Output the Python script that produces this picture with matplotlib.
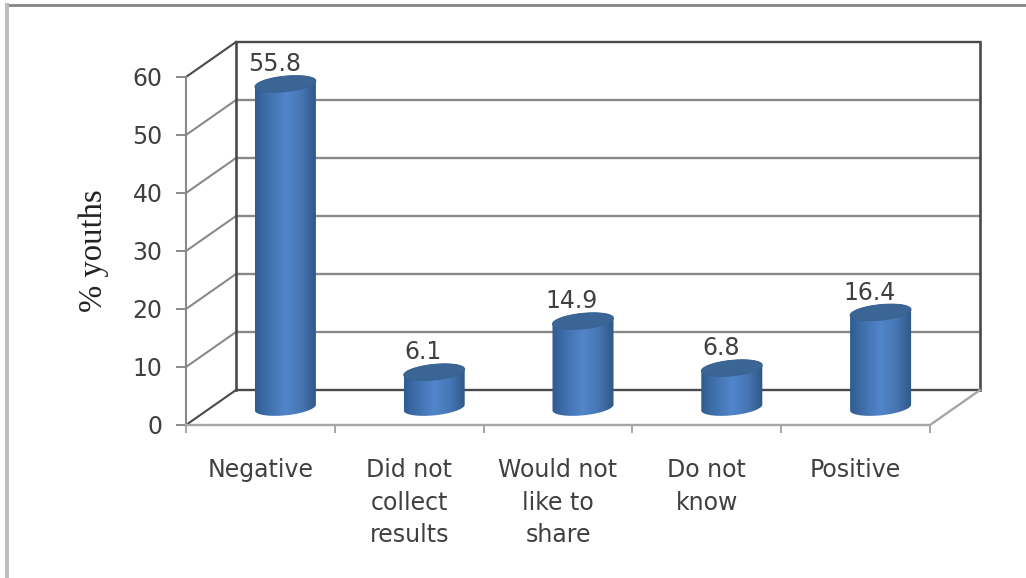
import numpy as np
import matplotlib
matplotlib.use("Agg")
import matplotlib.pyplot as plt
from matplotlib.colors import LinearSegmentedColormap
from matplotlib.lines import Line2D
from matplotlib.patches import PathPatch, Polygon
from matplotlib.path import Path

categories = ["Negative", "Did not\ncollect\nresults", "Would not\nlike to\nshare", "Do not\nknow", "Positive"]
values = [55.8, 6.1, 14.9, 6.8, 16.4]
y_ticks = [0, 10, 20, 30, 40, 50, 60]

W, H = 1026, 578
# depth of the 3D box, in data units
DX, DY = 0.336, 6.03
BAR_W = 0.205
ELL_B = 1.35
ELL_TILT = 0.5

TEXT = "#404040"
GRID = "#8a8a8a"
DARK = "#4a4a4a"
SIDE = "#a6a6a6"

fig = plt.figure(figsize=(W / 100, H / 100), dpi=100)
ax = fig.add_axes([186 / W, 1 - 425 / H, 744 / W, 348 / H])
ax.set_xlim(0, 5)
ax.set_ylim(0, 60)
ax.patch.set_visible(False)

# outer frame, only top and left show
fig.add_artist(Line2D([6 / W, 1], [1 - 5 / H, 1 - 5 / H], color="#858585", lw=2.0))
fig.add_artist(Line2D([7 / W, 7 / W], [0, 1 - 5 / H], color="#bdbdbd", lw=2.8))

# back wall and side wall
for v in y_ticks:
    edge = v in (0, 60)
    ax.plot([DX, 5 + DX], [v + DY, v + DY], color=DARK if edge else GRID, lw=1.7, clip_on=False, zorder=1)
    ax.plot([0, DX], [v, v + DY], color=DARK if edge else GRID, lw=1.5, clip_on=False, zorder=1)
ax.plot([DX, DX], [DY, 60 + DY], color=DARK, lw=1.9, clip_on=False, zorder=1)
ax.plot([5 + DX, 5 + DX], [DY, 60 + DY], color=DARK, lw=1.9, clip_on=False, zorder=1)
ax.plot([5, 5 + DX], [0, DY], color=SIDE, lw=1.7, clip_on=False, zorder=1)

# cylinders
cmap = LinearSegmentedColormap.from_list("cyl", [(0, "#2f5b90"), (0.2, "#3f6fab"), (0.5, "#5286cb"),
                                                 (0.75, "#4676b4"), (1, "#2f5785")])
shade = np.linspace(0, 1, 128).reshape(1, -1)


def rim(cx, y, t):
    return np.column_stack([cx + BAR_W * np.cos(t), y + ELL_B * np.sin(t) + ELL_TILT * np.cos(t)])


for i, v in enumerate(values):
    cx = i + 0.5 + DX / 2
    y0 = DY / 2
    t_low = np.linspace(np.pi, 2 * np.pi, 40)
    t_up = np.linspace(0, np.pi, 40)
    outline = np.vstack([rim(cx, y0, t_low), rim(cx, y0 + v, t_up)])
    body = Polygon(outline, closed=True, transform=ax.transData, facecolor="none", edgecolor="none")
    ax.add_patch(body)
    im = ax.imshow(shade, cmap=cmap, extent=[cx - BAR_W, cx + BAR_W, y0 - 3, y0 + v + 3],
                   aspect="auto", zorder=3, clip_on=True)
    im.set_clip_path(body)
    t_all = np.linspace(0, 2 * np.pi, 80)
    ax.add_patch(PathPatch(Path(rim(cx, y0 + v, t_all)), facecolor="#3a6595", edgecolor="#38628f",
                           lw=0.6, zorder=4, clip_on=False))
    ax.annotate(f"{v}", (cx, y0 + v), xytext=(-8, 5.5), textcoords="offset points", ha="center", va="bottom",
                fontsize=17, color=TEXT, zorder=5, annotation_clip=False)
ax.set_xlim(0, 5)
ax.set_ylim(0, 60)

# axes
for s in ("top", "right"):
    ax.spines[s].set_visible(False)
ax.spines["left"].set_color(GRID)
ax.spines["left"].set_linewidth(1.5)
ax.spines["bottom"].set_color(SIDE)
ax.spines["bottom"].set_linewidth(1.7)
ax.set_yticks(y_ticks)
ax.tick_params(axis="y", length=7, width=1.4, color=GRID, pad=10, labelsize=17, labelcolor=TEXT)
ax.set_xticks(range(6))
ax.set_xticklabels([])
ax.tick_params(axis="x", which="major", length=6, width=1.4, color=SIDE)
ax.set_xticks(np.arange(len(categories)) + 0.5, labels=categories, minor=True)
ax.tick_params(axis="x", which="minor", length=0, pad=24, labelsize=17, labelcolor=TEXT)
for lab in ax.get_xticklabels(minor=True):
    lab.set_linespacing(1.44)
    lab.set_multialignment("center")

ax.set_ylabel("% youths", family="Liberation Serif", fontsize=23.5, color="#222222", labelpad=17)

fig.savefig("out.png", dpi=100, facecolor="white")
